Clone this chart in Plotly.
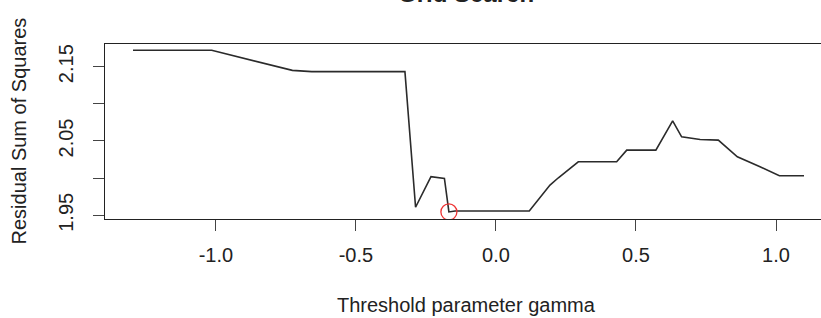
import plotly.graph_objects as go

# ---- data ----
gamma = [-1.296, -1.015, -0.727, -0.658, -0.325, -0.287, -0.232, -0.184, -0.168,
         -0.146, 0.119, 0.193, 0.223, 0.294, 0.431, 0.467, 0.571, 0.631, 0.663,
         0.729, 0.794, 0.862, 0.943, 1.012, 1.100]
rss = [2.172, 2.172, 2.145, 2.1433, 2.1433, 1.9608, 2.0019, 1.9997, 1.9545,
       1.9558, 1.9558, 1.9907, 2.0005, 2.022, 2.022, 2.0377, 2.0377, 2.0771, 2.0556,
       2.052, 2.0512, 2.0288, 2.0153, 2.0032, 2.0032]
best_gamma = [-0.168]
best_rss = [1.9545]

x_tickvals = [-1.0, -0.5, 0.0, 0.5, 1.0]
x_ticktext = ["-1.0", "-0.5", "0.0", "0.5", "1.0"]
y_tickvals = [1.95, 2.00, 2.05, 2.10, 2.15]
y_ticktext = ["1.95", "", "2.05", "", "2.15"]

title_text = "Grid Search"
x_title = "Threshold parameter gamma"
y_title = "Residual Sum of Squares"

FONT = "Liberation Sans, Arial, sans-serif"
TXT = "#222222"

fig = go.Figure()
fig.add_trace(go.Scatter(x=gamma, y=rss, mode="lines",
                         line=dict(color="#2b2b2b", width=1.6),
                         hoverinfo="skip", showlegend=False))
fig.add_trace(go.Scatter(x=best_gamma, y=best_rss, mode="markers",
                         marker=dict(symbol="circle-open", size=16,
                                     color="#ee3333", line=dict(width=1.3, color="#ee3333")),
                         hoverinfo="skip", showlegend=False))

fig.update_layout(
    width=821, height=318,
    margin=dict(l=105, r=0, t=44, b=99),
    paper_bgcolor="white", plot_bgcolor="white",
    font=dict(family=FONT, size=20, color=TXT),
    xaxis=dict(range=[-1.396, 1.1607], showgrid=False, zeroline=False,
               showline=True, mirror=True, linecolor="#222", linewidth=1.3,
               ticks="outside", ticklen=11, tickcolor="#444", tickwidth=1.3,
               tickvals=x_tickvals, ticktext=x_ticktext,
               tickfont=dict(family=FONT, size=20, color=TXT),
               ticklabelstandoff=7),
    yaxis=dict(range=[1.945, 2.1805], showgrid=False, zeroline=False,
               showline=True, mirror=False, linecolor="#222", linewidth=1.3,
               ticks="outside", ticklen=11, tickcolor="#444", tickwidth=1.3,
               tickvals=y_tickvals, ticktext=y_ticktext, tickangle=-90,
               tickfont=dict(family=FONT, size=20, color=TXT),
               ticklabelstandoff=12),
    annotations=[
        dict(text=x_title, xref="paper", yref="paper", x=0.5045, y=0,
             yshift=-86, xanchor="center", yanchor="middle", showarrow=False,
             font=dict(family=FONT, size=20, color=TXT)),
        dict(text=y_title, xref="paper", yref="paper", x=0, y=0.5,
             xshift=-87, xanchor="center", yanchor="middle", textangle=-90,
             showarrow=False, font=dict(family=FONT, size=20, color=TXT)),
        dict(text="<b>" + title_text + "</b>", xref="paper", yref="paper",
             x=0.5045, y=1, yshift=51, xanchor="center", yanchor="middle",
             showarrow=False, font=dict(family=FONT, size=24, color=TXT)),
    ],
)

fig.write_html("out.html", config={"displayModeBar": False},
               post_script="document.body.style.margin='0';document.body.style.overflow='hidden';")
